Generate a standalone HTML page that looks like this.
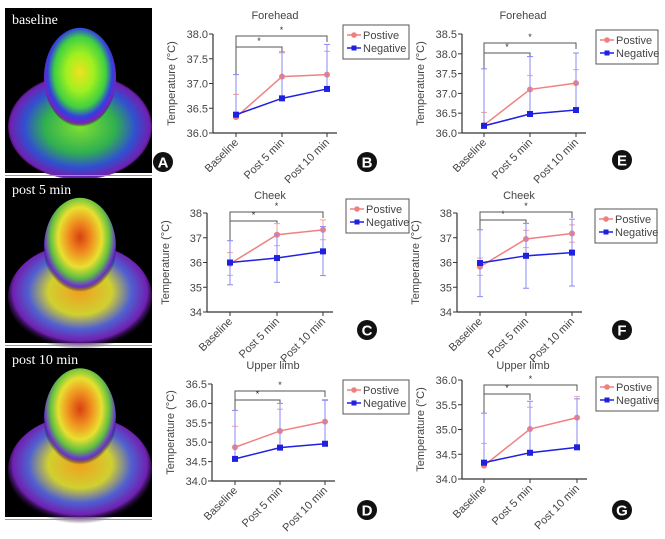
<!DOCTYPE html>
<html><head><meta charset="utf-8"><style>
body{margin:0;background:#fff;width:665px;height:539px;overflow:hidden;font-family:"Liberation Sans",sans-serif}
svg{position:absolute;left:0;top:0}
</style></head><body>
<svg id="fig" width="665" height="539" viewBox="0 0 665 539">
<defs>
<radialGradient id="heat" cx="50%" cy="45%" r="55%">
<stop offset="0%" stop-color="#f0e020"/><stop offset="35%" stop-color="#a0f020"/><stop offset="65%" stop-color="#40d040"/><stop offset="82%" stop-color="#3040e0"/><stop offset="93%" stop-color="#7a20c0"/><stop offset="100%" stop-color="#000" stop-opacity="0"/>
</radialGradient>
<radialGradient id="heat2" cx="50%" cy="40%" r="55%">
<stop offset="0%" stop-color="#d84010"/><stop offset="30%" stop-color="#f09020"/><stop offset="55%" stop-color="#e8e030"/><stop offset="75%" stop-color="#60c040"/><stop offset="90%" stop-color="#6a30d0"/><stop offset="100%" stop-color="#000" stop-opacity="0"/>
</radialGradient>
<radialGradient id="body" cx="50%" cy="50%" r="55%">
<stop offset="0%" stop-color="#80e030"/><stop offset="45%" stop-color="#30b050"/><stop offset="70%" stop-color="#3050d0"/><stop offset="88%" stop-color="#7020b0"/><stop offset="100%" stop-color="#000" stop-opacity="0"/>
</radialGradient>
<radialGradient id="body2" cx="50%" cy="45%" r="55%">
<stop offset="0%" stop-color="#f0a020"/><stop offset="40%" stop-color="#d0d030"/><stop offset="65%" stop-color="#5060d0"/><stop offset="85%" stop-color="#7020b0"/><stop offset="100%" stop-color="#000" stop-opacity="0"/>
</radialGradient>
</defs>
<g id="photos"></g>
<g id="charts"></g>
</svg>
<script>
const NS="http://www.w3.org/2000/svg";
const categories=["Baseline","Post 5 min","Post 10 min"];
const seriesNames=["Postive","Negative"];
// B forehead
const B_pos=[36.32,37.14,37.18], B_posUp=[36.78,37.62,37.65], B_posLo=[36.32,37.14,37.18];
const B_neg=[36.37,36.70,36.89], B_negUp=[37.18,37.64,37.79], B_negLo=[36.37,36.70,36.89];
const B_ticks=["36.0","36.5","37.0","37.5","38.0"];
// E forehead
const E_pos=[36.20,37.10,37.26], E_posUp=[36.52,37.45,37.60], E_posLo=[36.20,37.10,37.26];
const E_neg=[36.18,36.48,36.58], E_negUp=[37.62,37.93,38.02], E_negLo=[36.18,36.48,36.58];
const E_ticks=["36.0","36.5","37.0","37.5","38.0","38.5"];
// C cheek
const C_pos=[35.95,37.12,37.32], C_posUp=[36.40,37.57,37.72], C_posLo=[35.48,36.68,36.92];
const C_neg=[36.00,36.18,36.45], C_negUp=[36.88,37.15,37.45], C_negLo=[35.10,35.20,35.47];
const C_ticks=["34","35","36","37","38"];
// F cheek
const F_pos=[35.83,36.95,37.17], F_posUp=[36.18,37.30,37.52], F_posLo=[35.48,36.60,36.82];
const F_neg=[35.98,36.27,36.40], F_negUp=[37.32,37.58,37.75], F_negLo=[34.62,34.96,35.05];
const F_ticks=["34","35","36","37","38"];
// D upper limb
const D_pos=[34.87,35.29,35.53], D_posUp=[35.41,35.85,36.10], D_posLo=[34.87,35.29,35.53];
const D_neg=[34.57,34.86,34.96], D_negUp=[35.82,36.00,36.08], D_negLo=[34.57,34.86,34.96];
const D_ticks=["34.0","34.5","35.0","35.5","36.0","36.5"];
// G upper limb
const G_pos=[34.27,35.01,35.24], G_posUp=[34.72,35.45,35.67], G_posLo=[34.27,35.01,35.24];
const G_neg=[34.33,34.53,34.64], G_negUp=[35.33,35.57,35.62], G_negLo=[34.33,34.53,34.64];
const G_ticks=["34.0","34.5","35.0","35.5","36.0"];

function el(tag,attrs,parent,text){const e=document.createElementNS(NS,tag);for(const k in attrs)e.setAttribute(k,attrs[k]);if(text!==undefined)e.textContent=text;parent.appendChild(e);return e;}

const photos=document.getElementById('photos');
const photoCfg=[["baseline",8,173,"heat","body"],["post 5 min",178,343,"heat2","body2"],["post 10 min",348,517,"heat2","body2"]];
photoCfg.forEach((p,i)=>{
  const g=el('g',{},photos);
  
  
  const h=p[2]-p[1];
  el('rect',{x:5,y:p[1],width:147,height:h,fill:'#000'},g);
  el('ellipse',{cx:80,cy:p[1]+h*0.72,rx:72,ry:h*0.32,fill:'url(#'+p[4]+')'},g);
  el('ellipse',{cx:80,cy:p[1]+h*0.42,rx:36,ry:h*0.3,fill:'url(#'+p[3]+')'},g);
  const t=el('text',{x:12,y:p[1]+16,fill:'#fff','font-family':'"Liberation Serif",serif','font-size':14},g,p[0]);
  
  
  el('line',{x1:5,x2:152,y1:p[2]+2.5,y2:p[2]+2.5,stroke:'#999','stroke-width':1},g);
});
function badge(cx,cy,letter,parent){
  const g=el('g',{},parent);
  
  
  el('circle',{cx:cx,cy:cy,r:10,fill:'#111'},g);
  el('text',{x:cx,y:cy+5.5,'text-anchor':'middle',fill:'#fff','font-size':15,'font-weight':'bold'},g,letter);
}
badge(163,162,"A",photos);

const charts=document.getElementById('charts');
function chart(c){
  const g=el('g',{},charts);
  
  
  const n=c.ticks.length, lo=+c.ticks[0], hi=+c.ticks[n-1];
  const y=v=>c.bottom-(v-lo)/(hi-lo)*(c.bottom-c.top);
  const x=i=>c.cats[i];
  const t=el('text',{x:c.cats[1]-7,y:c.titleY,'text-anchor':'middle','font-size':11,fill:'#444'},g,c.title);
  
  
  el('line',{x1:c.ax,x2:c.ax,y1:c.top,y2:c.bottom,stroke:'#333','stroke-width':1.2},g);
  el('line',{x1:c.ax,x2:c.cats[2]+10,y1:c.bottom,y2:c.bottom,stroke:'#333','stroke-width':1.2},g);
  c.ticks.forEach(tk=>{
    const yy=y(+tk);
    el('line',{x1:c.ax-4,x2:c.ax,y1:yy,y2:yy,stroke:'#333'},g);
    const tl=el('text',{x:c.ax-5,y:yy+4,'text-anchor':'end','font-size':11,fill:'#444'},g,tk);
    
    
  });
  const yl=el('text',{transform:`translate(${c.ax-38},${(c.top+c.bottom)/2}) rotate(-90)`,'text-anchor':'middle','font-size':11,fill:'#444'},g,'Temperature (°C)');
  
  
  categories.forEach((cat,i)=>{
    el('line',{x1:x(i),x2:x(i),y1:c.bottom,y2:c.bottom+4,stroke:'#333'},g);
    const xl=el('text',{transform:`translate(${x(i)+3},${c.bottom+10}) rotate(-45)`,'text-anchor':'end','font-size':11,fill:'#444'},g,cat);
    
    
  });
  [[c.inner,1],[c.outer,2]].forEach(([by,j])=>{
    const b=el('path',{d:`M${x(0)},${by+(j==1?40:50)}V${by}H${x(j)}V${by+6}`,fill:'none',stroke:'#555','stroke-width':1},g);
    
    
    el('text',{x:(x(0)+x(j))/2,y:by-3,'text-anchor':'middle','font-size':9,fill:'#333'},g,'*');
  });
  const series=[[c.pos,c.posUp,c.posLo,'#f08080','#f4a0a0','circle'],[c.neg,c.negUp,c.negLo,'#2020e0','#8a8af0','square']];
  series.forEach(([v,up,lo2,col,ecol,shape],si)=>{
    const sg=el('g',{},g);
    
    
    v.forEach((val,i)=>{
      el('line',{x1:x(i),x2:x(i),y1:y(up[i]),y2:y(lo2[i]),stroke:ecol,'stroke-width':1},sg);
      el('line',{x1:x(i)-3,x2:x(i)+3,y1:y(up[i]),y2:y(up[i]),stroke:ecol},sg);
      if(lo2[i]!==val) el('line',{x1:x(i)-3,x2:x(i)+3,y1:y(lo2[i]),y2:y(lo2[i]),stroke:ecol},sg);
    });
    el('polyline',{points:v.map((val,i)=>x(i)+','+y(val)).join(' '),fill:'none',stroke:col,'stroke-width':1.5},sg);
    v.forEach((val,i)=>{
      let m;
      if(shape==='circle') m=el('circle',{cx:x(i),cy:y(val),r:3,fill:col},sg);
      else m=el('rect',{x:x(i)-3,y:y(val)-3,width:6,height:6,fill:col},sg);
      
      
    });
  });
  const lg=el('g',{},g);
  
  
  el('rect',{x:c.lx,y:c.ly,width:c.lw,height:34,fill:'#fff',stroke:'#555'},lg);
  [['#f08080','circle'],['#2020e0','square']].forEach(([col,sh],k)=>{
    const yy=c.ly+10+k*13;
    const le=el('g',{},lg);
    
    
    el('line',{x1:c.lx+4,x2:c.lx+18,y1:yy,y2:yy,stroke:col,'stroke-width':1.5},le);
    if(sh==='circle') el('circle',{cx:c.lx+11,cy:yy,r:2.8,fill:col},le);
    else el('rect',{x:c.lx+8.5,y:yy-2.5,width:5,height:5,fill:col},le);
    el('text',{x:c.lx+20,y:yy+4,'font-size':11,fill:'#444'},le,seriesNames[k]);
  });
  badge(c.bx,c.by,c.id,g);
}
chart({id:"B",title:"Forehead",titleY:19,ax:213,top:34,bottom:133,cats:[236,282,327],ticks:B_ticks,pos:B_pos,posUp:B_posUp,posLo:B_posLo,neg:B_neg,negUp:B_negUp,negLo:B_negLo,inner:47,outer:36,lx:343,ly:25,lw:66,bx:367,by:162});
chart({id:"E",title:"Forehead",titleY:19,ax:462,top:34,bottom:133,cats:[484,530,576],ticks:E_ticks,pos:E_pos,posUp:E_posUp,posLo:E_posLo,neg:E_neg,negUp:E_negUp,negLo:E_negLo,inner:53,outer:43,lx:596,ly:30,lw:62,bx:622,by:160});
chart({id:"C",title:"Cheek",titleY:199,ax:207,top:213,bottom:312,cats:[230,277,323],ticks:C_ticks,pos:C_pos,posUp:C_posUp,posLo:C_posLo,neg:C_neg,negUp:C_negUp,negLo:C_negLo,inner:221,outer:212,lx:346,ly:199,lw:63,bx:367,by:330});
chart({id:"F",title:"Cheek",titleY:199,ax:457,top:213,bottom:312,cats:[480,526,572],ticks:F_ticks,pos:F_pos,posUp:F_posUp,posLo:F_posLo,neg:F_neg,negUp:F_negUp,negLo:F_negLo,inner:220,outer:212,lx:595,ly:209,lw:62,bx:622,by:330});
chart({id:"D",title:"Upper limb",titleY:369,ax:212,top:384,bottom:481,cats:[235,280,325],ticks:D_ticks,pos:D_pos,posUp:D_posUp,posLo:D_posLo,neg:D_neg,negUp:D_negUp,negLo:D_negLo,inner:400,outer:391,lx:343,ly:380,lw:66,bx:367,by:510});
chart({id:"G",title:"Upper limb",titleY:369,ax:462,top:380,bottom:479,cats:[484,530,577],ticks:G_ticks,pos:G_pos,posUp:G_posUp,posLo:G_posLo,neg:G_neg,negUp:G_negUp,negLo:G_negLo,inner:394,outer:385,lx:596,ly:377,lw:62,bx:622,by:510});
</script>
</body></html>
